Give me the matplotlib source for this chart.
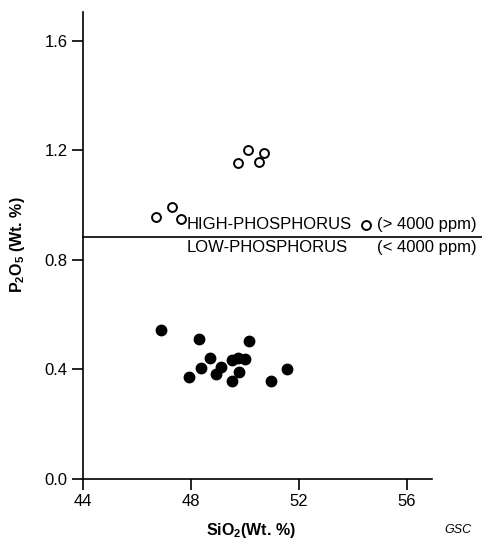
import matplotlib
matplotlib.use("Agg")
import matplotlib.pyplot as plt

plt.rcParams['font.family'] = ['Liberation Sans', 'DejaVu Sans']
plt.rcParams['mathtext.fontset'] = 'custom'
plt.rcParams['mathtext.rm'] = 'Liberation Sans'
plt.rcParams['mathtext.bf'] = 'Liberation Sans:bold'

# high-phosphorus samples (open circles)
high_sio2 = [46.70, 47.30, 47.63, 49.74, 50.11, 50.52, 50.70, 54.48]
high_p2o5 = [0.957, 0.994, 0.950, 1.154, 1.202, 1.158, 1.191, 0.928]

# low-phosphorus samples (filled circles)
low_sio2 = [46.89, 48.30, 50.15, 48.70, 48.37, 47.93, 49.11, 48.93,
            49.52, 49.74, 50.00, 49.78, 49.52, 50.96, 51.56]
low_p2o5 = [0.544, 0.511, 0.504, 0.442, 0.405, 0.373, 0.409, 0.384,
            0.435, 0.442, 0.438, 0.391, 0.358, 0.358, 0.402]

divide = 0.884
x_ticks = [44, 48, 52, 56]
y_ticks = [0.0, 0.4, 0.8, 1.2, 1.6]

fig = plt.figure(figsize=(4.82, 5.41), dpi=100)
ax = fig.add_axes([0.172, 0.1146, 0.724, 0.8634])

ax.plot(high_sio2, high_p2o5, 'o', mfc='white', mec='black', mew=1.4, ms=6.4, clip_on=False)
ax.plot(low_sio2, low_p2o5, 'o', color='black', ms=7.5, clip_on=False)

# divider line runs past the end of the x axis
ax.plot([44, 58.8], [divide, divide], color='black', lw=1.2, clip_on=False)

fs = 12
ax.text(47.85, 0.931, 'HIGH-PHOSPHORUS', fontsize=fs, va='center', ha='left')
ax.text(47.85, 0.844, 'LOW-PHOSPHORUS', fontsize=fs, va='center', ha='left')
ax.text(54.89, 0.931, '(> 4000 ppm)', fontsize=fs, va='center', ha='left')
ax.text(54.89, 0.844, '(< 4000 ppm)', fontsize=fs, va='center', ha='left')

ax.set_xlim(44, 56.93)
ax.set_ylim(0, 1.706)
ax.set_xticks(x_ticks)
ax.set_xticklabels([str(t) for t in x_ticks])
ax.set_yticks(y_ticks)
ax.set_yticklabels(['%.1f' % t for t in y_ticks])
ax.tick_params(direction='out', length=8, width=1.2, labelsize=fs, pad=3)

for side in ['top', 'right']:
    ax.spines[side].set_visible(False)
for side in ['left', 'bottom']:
    ax.spines[side].set_linewidth(1.2)

fig.text(0.037, 0.547, r'P$_\mathbf{2}$O$_\mathbf{5}$ (Wt. %)', rotation=90,
         fontsize=11.5, fontweight='bold', ha='center', va='center')
fig.text(0.52, 0.02, r'SiO$_\mathbf{2}$(Wt. %)', fontsize=11.5,
         fontweight='bold', ha='center', va='center')
fig.text(0.95, 0.02, 'GSC', fontsize=9, style='italic', ha='center', va='center')

fig.savefig('out.png', dpi=100, facecolor='white')
